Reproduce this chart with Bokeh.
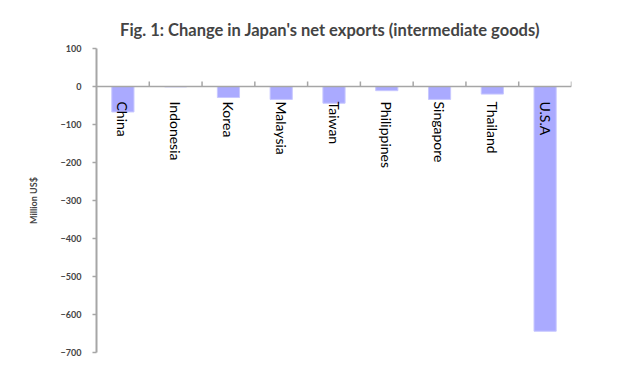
import math
from bokeh.plotting import figure
from bokeh.models import FixedTicker, ColumnDataSource, Title, Range1d, Span
from bokeh.core.properties import value
from bokeh.embed import file_html
from bokeh.resources import INLINE

countries = ["China", "Indonesia", "Korea", "Malaysia", "Taiwan", "Philippines", "Singapore", "Thailand", "U.S.A"]
net_exports = [-67, -1, -29, -34, -44, -11, -34, -20, -644]
y_ticks = [100, 0, -100, -200, -300, -400, -500, -600, -700]
title_text = "Fig. 1:  Change in Japan's net exports  (intermediate goods)"
y_title = "Million US$"

n = len(countries)
centers = [i + 0.5 for i in range(n)]
src = ColumnDataSource(dict(x=centers, top=net_exports, name=countries, zero=[0] * n))

p = figure(width=616, height=364, output_backend="svg", toolbar_location=None,
           x_range=Range1d(0, n), y_range=Range1d(min(y_ticks), max(y_ticks)),
           min_border_left=96, min_border_right=45, min_border_top=48, min_border_bottom=12)
p.outline_line_color = None
p.xgrid.visible = False
p.ygrid.visible = False
p.xaxis.visible = False
p.background_fill_color = "white"
p.border_fill_color = "white"

p.vbar(x="x", top="top", bottom="zero", width=0.42, source=src,
       fill_color="#aaaaff", line_color="#c8c8ff", line_width=1)

# category axis along zero, with upward tick marks at category boundaries
p.add_layout(Span(location=0, dimension="width", line_color="#a6a6a6", line_width=1.5))
bounds = list(range(1, n + 1))
tick_len = 13  # in data units (~5px)
p.segment(x0=bounds, x1=bounds, y0=[0] * n, y1=[tick_len] * n,
          line_color="#a6a6a6", line_width=1.5)

p.text(x="x", y="zero", text="name", source=src, angle=-math.pi / 2,
       text_align="left", text_baseline="middle", y_offset=15,
       text_font=value("Lato"), text_font_size="14px", text_color="black")

ya = p.yaxis[0]
ya.ticker = FixedTicker(ticks=y_ticks)
ya.major_tick_in = 0
ya.major_tick_out = 4
ya.minor_tick_line_color = None
ya.axis_line_color = "#a6a6a6"
ya.axis_line_width = 2
ya.major_tick_line_color = "#a6a6a6"
ya.major_tick_line_width = 1.5
ya.major_label_text_font = "Lato"
ya.major_label_text_font_style = "bold"
ya.major_label_text_font_size = "9px"
ya.major_label_standoff = 11
ya.axis_label = y_title
ya.axis_label_text_font = "Lato"
ya.axis_label_text_font_style = "bold"
ya.axis_label_text_font_size = "9px"
ya.axis_label_standoff = 19

p.title = Title(text=title_text, align="center", text_font="Lato",
                text_font_style="bold", text_font_size="16.5px", standoff=18)

open("out.html", "w").write(file_html(p, INLINE))
